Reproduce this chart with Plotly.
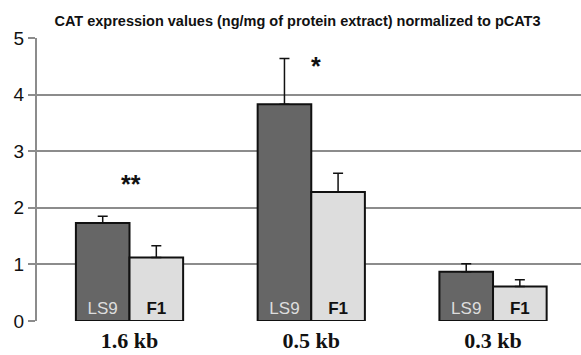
import plotly.graph_objects as go

categories = ["1.6 kb", "0.5 kb", "0.3 kb"]
ls9_values = [1.73, 3.83, 0.87]
ls9_errors = [0.12, 0.81, 0.14]
f1_values = [1.12, 2.28, 0.61]
f1_errors = [0.21, 0.33, 0.12]
significance = ["**", "*", ""]
title_text = "CAT expression values (ng/mg of protein extract) normalized to pCAT3"
y_ticks = [0, 1, 2, 3, 4, 5]

# label placement (layout only)
sig_y = [2.42, 4.5, None]
sig_xshift = [1, 5, 0]

fig = go.Figure()
fig.add_trace(go.Bar(
    x=categories, y=ls9_values, name="LS9",
    marker=dict(color="#666666", line=dict(color="#111111", width=2)),
    error_y=dict(type="data", symmetric=False, array=ls9_errors,
                 arrayminus=[0] * len(ls9_errors),
                 color="#111111", thickness=1.5, width=5),
    text=["LS9"] * len(categories), textposition="inside",
    insidetextanchor="start", textangle=0,
    textfont=dict(family="Arial, Liberation Sans", size=17, color="#dddddd"),
    cliponaxis=False,
))
fig.add_trace(go.Bar(
    x=categories, y=f1_values, name="F1",
    marker=dict(color="#dddddd", line=dict(color="#111111", width=2)),
    error_y=dict(type="data", symmetric=False, array=f1_errors,
                 arrayminus=[0] * len(f1_errors),
                 color="#111111", thickness=1.5, width=5),
    text=["<b>F1</b>"] * len(categories), textposition="inside",
    insidetextanchor="start", textangle=0,
    textfont=dict(family="Arial, Liberation Sans", size=17, color="#111111"),
    cliponaxis=False,
))

for cat, sig, sy, sx in zip(categories, significance, sig_y, sig_xshift):
    if sig:
        fig.add_annotation(x=cat, y=sy, text="<b>" + sig + "</b>",
                           showarrow=False, xshift=sx, yanchor="middle",
                           font=dict(family="Arial, Liberation Sans", size=25, color="#111111"))

fig.update_layout(
    width=581, height=355,
    margin=dict(l=37, r=0, t=38, b=34, autoexpand=False),
    paper_bgcolor="white", plot_bgcolor="white",
    showlegend=False,
    barmode="group", bargap=0.41, bargroupgap=0,
    title=dict(text="<b>" + title_text + "</b>", x=297.5 / 581, xanchor="center",
               y=1 - 20.5 / 355, yanchor="middle",
               font=dict(family="Arial, Liberation Sans", size=14.5, color="#111111")),
    xaxis=dict(
        range=[-0.509, 2.484], showgrid=False, showline=False, ticks="",
        ticklabelstandoff=4, automargin=False,
        tickfont=dict(family="Liberation Serif, Times New Roman", size=22, color="#111111"),
        tickvals=categories, ticktext=["<b>" + c + "</b>" for c in categories],
    ),
    yaxis=dict(
        range=[0, 5], tickvals=y_ticks, showgrid=True, gridcolor="#8c8c8c", gridwidth=1.8,
        showline=True, linecolor="#8c8c8c", linewidth=2, automargin=False,
        ticks="outside", ticklen=7, tickcolor="#8c8c8c", tickwidth=1.8,
        tickfont=dict(family="Arial, Liberation Sans", size=19, color="#111111"),
        zeroline=False,
    ),
)
fig.write_html("out.html")
